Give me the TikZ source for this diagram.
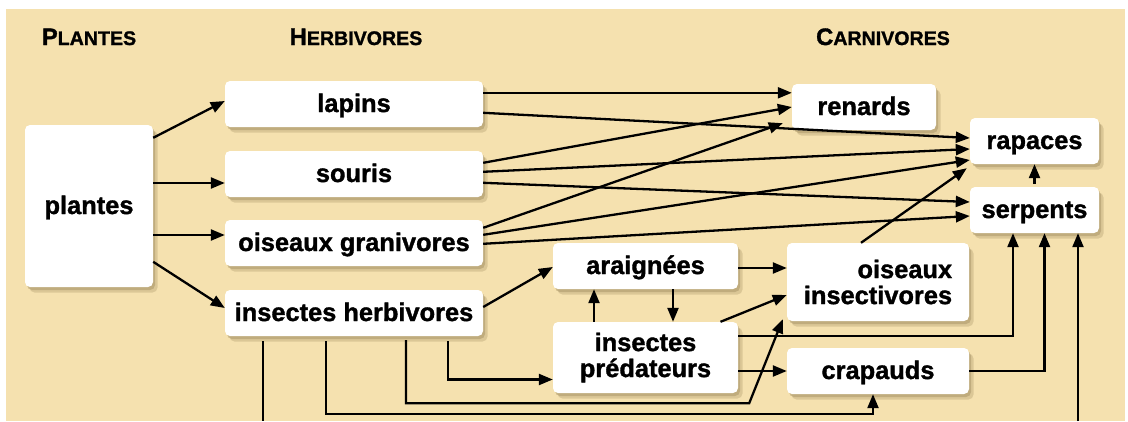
\documentclass[tikz,border=0pt]{standalone}
\usepackage{fontspec}
\setmainfont{Liberation Sans}[BoldFeatures={FakeBold=1.3}]
\usetikzlibrary{shadows,arrows.meta,calc}
\definecolor{bgc}{RGB}{245,225,175}
\definecolor{shc}{RGB}{160,140,95}
\newcommand\hsc[2]{{\fontsize{23.8}{24}\selectfont #1}{\fontsize{19.6}{20}\selectfont #2}}
\tikzset{
  box/.style={fill=white, rounded corners=5pt, inner sep=0pt, minimum height=46pt,
    font=\fontsize{25.4}{26}\selectfont\bfseries,
    drop shadow={shadow xshift=2pt,shadow yshift=-3pt,fill=shc,opacity=.45},
    drop shadow={shadow xshift=4.5pt,shadow yshift=-5.5pt,fill=shc,opacity=.3}},
  one/.style={text height=18pt, text depth=2pt},
  head/.style={font=\bfseries, inner sep=0pt, anchor=base},
  ar/.style={-{Triangle[length=14pt,width=11pt]}, line width=2.3pt},
  ln/.style={line width=2.3pt}
}
\begin{document}
\begin{tikzpicture}[x=1pt,y=-1pt]
\useasboundingbox (0,0) rectangle (1128,421);
\fill[bgc] (6,9) rectangle (1125,421);
% headings
\node[head] (hp) at (89,45) {\hsc{P}{LANTES}};
\node[head] (hh) at (356,45) {\hsc{H}{ERBIVORES}};
\node[head] (hc) at (883,45) {\hsc{C}{ARNIVORES}};
% nodes
\node[box, one, minimum width=128pt, minimum height=162pt] (plantes) at (89,206) {plantes};
\node[box, one, minimum width=258pt] (lapins) at (354,104) {lapins};
\node[box, one, minimum width=258pt] (souris) at (354,174) {souris};
\node[box, one, minimum width=258pt] (og) at (354,243) {oiseaux granivores};
\node[box, one, minimum width=258pt] (ih) at (354,313) {insectes herbivores};
\node[box, one, minimum width=144pt] (renards) at (864,107) {renards};
\node[box, one, minimum width=129pt] (rapaces) at (1034.5,141) {rapaces};
\node[box, one, minimum width=129pt] (serpents) at (1034.5,210) {serpents};
\node[box, one, minimum width=185pt] (araignees) at (645.5,266) {araignées};
\node[box, minimum width=182pt, minimum height=78pt, align=right] (oi) at (878,282) {oiseaux\\insectivores};
\node[box, minimum width=185pt, minimum height=71pt, align=center] (ip) at (645.5,357.5) {insectes\\prédateurs};
\node[box, one, minimum width=182pt] (crapauds) at (878,371) {crapauds};
% plantes -> herbivores
\draw[ar] ([yshift=-13pt]plantes.north east) -- ([yshift=3pt]lapins.west);
\coordinate (a2) at ([yshift=-9pt]souris.west);
\draw[ar] (a2 -| plantes.east) -- (a2);
\coordinate (a3) at ([yshift=8pt]og.west);
\draw[ar] (a3 -| plantes.east) -- (a3);
\draw[ar] ([yshift=-137pt]plantes.north east) -- ([yshift=5pt]ih.west);
% herbivores -> carnivores
\coordinate (a5) at ([yshift=-12pt]lapins.north east);
\draw[ar] (a5) -- (a5 -| renards.west);
\draw[ar] ([yshift=-32pt]lapins.north east) -- ([yshift=3pt]rapaces.west);
\draw[ar] ([yshift=-12pt]souris.north east) -- (renards.west);
\draw[ar] ([yshift=-21pt]souris.north east) -- ([yshift=-8pt]rapaces.west);
\draw[ar] ([yshift=-32pt]souris.north east) -- ([yshift=8pt]serpents.west);
\draw[ar] ([yshift=-8pt]og.north east) -- ([xshift=-9pt,yshift=7pt]renards.south west);
\draw[ar] ([yshift=-15pt]og.north east) -- ([yshift=-19pt]rapaces.west);
\draw[ar] ([yshift=-24pt]og.north east) -- ([yshift=-6pt]serpents.west);
\draw[ar] ([xshift=-17pt]oi.north) -- ([xshift=-3pt,yshift=-4pt]rapaces.south west);
\draw[ar] ([yshift=3pt]serpents.north) -- (rapaces.south);
% insectes herbivores
\draw[ar] ([yshift=6pt]ih.east) -- ([yshift=-1pt]araignees.west);
\coordinate (ihb) at ([yshift=-5pt]ih.south);
\coordinate (b1) at (263,421);
\draw[ln] (ihb -| b1) -- (b1);
\draw[ar] ([xshift=-28pt,yshift=-5pt]ih.south) |- ([xshift=-5pt,yshift=-20pt]crapauds.south) -- ([xshift=-5pt]crapauds.south);
\draw[ar] ([xshift=52pt,yshift=-4pt]ih.south) |- ([xshift=11pt,yshift=-10pt]ip.south east) -- ([xshift=-4pt,yshift=2pt]oi.south west);
\draw[ar] ([xshift=94pt,yshift=-5pt]ih.south) |- ([yshift=-22pt]ip.west);
% insectes predateurs / araignees
\draw[ar] ([xshift=-51.5pt]ip.north) -- ([xshift=-51.5pt]araignees.south);
\draw[ar] ([xshift=27.5pt]araignees.south) -- ([xshift=27.5pt]ip.north);
\draw[ar] ([xshift=75pt]ip.north) -- ([yshift=-13pt]oi.west);
\draw[ar] ([yshift=-14pt]ip.north east) -| ([xshift=-21.5pt]serpents.south);
\draw[ar] (crapauds.west -| ip.east) -- (crapauds.west);
\draw[ar] ([yshift=-2pt]araignees.east) -- ([yshift=-2pt]araignees.east -| oi.west);
\draw[ar] (crapauds.east) -| ([xshift=10pt]serpents.south);
\coordinate (b2) at (1078,421);
\draw[ar] (b2) -- (b2 |- serpents.south);
\end{tikzpicture}
\end{document}
